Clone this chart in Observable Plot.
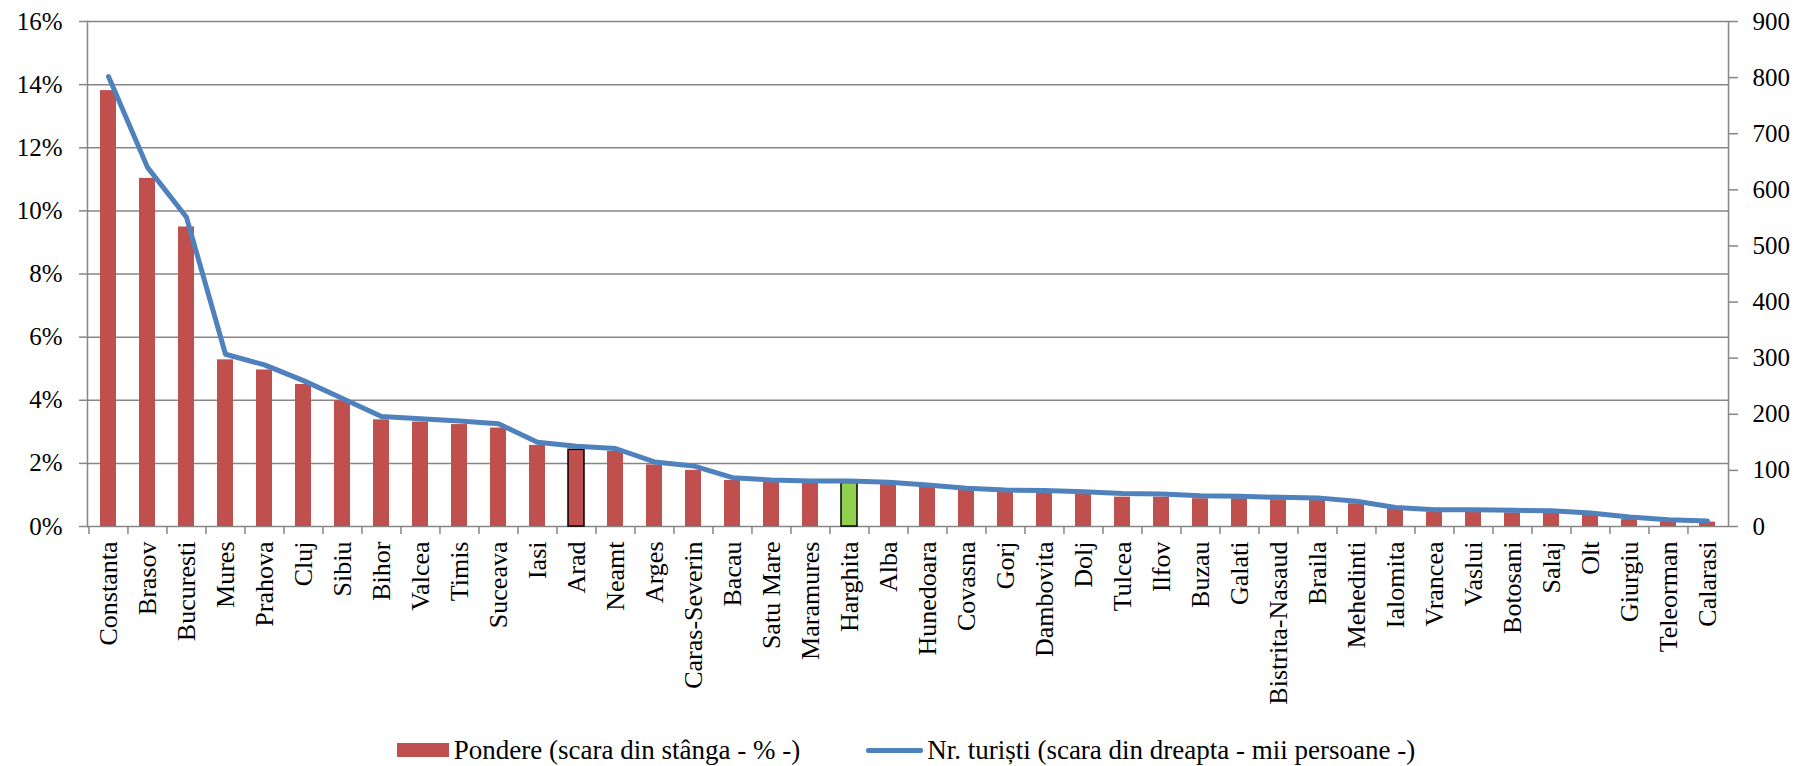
<!DOCTYPE html>
<html>
<head>
<meta charset="utf-8">
<script src="https://cdn.jsdelivr.net/npm/d3@7"></script>
<script src="https://cdn.jsdelivr.net/npm/@observablehq/plot@0.6"></script>
<style>
  html, body { margin: 0; padding: 0; background: white; font-family: "Liberation Serif", serif; }
  #legend { display: flex; justify-content: center; align-items: center; height: 36px;
    font-family: "Liberation Serif", serif; font-size: 27px; color: black; white-space: nowrap; }
  .sw-bar { display: inline-block; width: 52px; height: 14px; background: #C0504D; margin-right: 5px; }
  .sw-line { display: inline-block; width: 57px; height: 5px; background: #4F81BD; margin-left: 66px; margin-right: 4px; border-radius: 2px; }
</style>
</head>
<body>
<div id="chart"></div>
<div id="legend"><span class="sw-bar"></span><span>Pondere (scara din stânga - % -)</span><span class="sw-line"></span><span>Nr. turiști (scara din dreapta - mii persoane -)</span></div>
<script>
const counties = ["Constanta","Brasov","Bucuresti","Mures","Prahova","Cluj","Sibiu","Bihor","Valcea","Timis","Suceava","Iasi","Arad","Neamt","Arges","Caras-Severin","Bacau","Satu Mare","Maramures","Harghita","Alba","Hunedoara","Covasna","Gorj","Dambovita","Dolj","Tulcea","Ilfov","Buzau","Galati","Bistrita-Nasaud","Braila","Mehedinti","Ialomita","Vrancea","Vaslui","Botosani","Salaj","Olt","Giurgiu","Teleorman","Calarasi"];
const shares = [13.81, 11.03, 9.49, 5.28, 4.96, 4.50, 3.99, 3.38, 3.31, 3.23, 3.12, 2.57, 2.43, 2.38, 1.95, 1.78, 1.46, 1.41, 1.38, 1.38, 1.35, 1.25, 1.16, 1.09, 1.06, 1.02, 0.93, 0.93, 0.88, 0.88, 0.85, 0.83, 0.72, 0.56, 0.46, 0.46, 0.43, 0.43, 0.35, 0.22, 0.16, 0.14];
const tourists = [802, 640, 551, 307, 288, 260, 228, 196, 192, 188, 183, 150, 143, 139, 115, 108, 87, 83, 81, 81, 79, 74, 68, 65, 64, 62, 59, 58, 55, 54, 52, 51, 45, 34, 30, 30, 29, 28, 24, 17, 12, 10];
const leftTicks = [0, 2, 4, 6, 8, 10, 12, 14, 16];
const rightTicks = [0, 100, 200, 300, 400, 500, 600, 700, 800, 900];
const highlightOutline = ["Arad", "Harghita"];
const greenBar = "Harghita";

const leftMax = 16, rightMax = 900;
const toLeft = v => v * leftMax / rightMax;

const data = counties.map((c, i) => ({county: c, share: shares[i], tourists: tourists[i]}));

const width = 1812, height = 732;
const marginLeft = 87, marginRight = 84, marginTop = 21, marginBottom = 206;
const step = (width - marginLeft - marginRight) / counties.length;
const grey = "#868686";
const font = "'Liberation Serif', serif";

const chart = Plot.plot({
  width, height, marginLeft, marginRight, marginTop, marginBottom,
  style: {fontFamily: font, fontSize: "26px", color: "black", background: "white"},
  x: {domain: counties, paddingInner: 0.59, paddingOuter: 0.295, axis: null, label: null},
  y: {domain: [0, leftMax], axis: null, label: null},
  marks: [
    Plot.gridY(leftTicks, {stroke: grey, strokeOpacity: 1, strokeWidth: 1.5}),
    Plot.frame({anchor: "left", stroke: grey, strokeWidth: 1.5}),
    Plot.frame({anchor: "right", stroke: grey, strokeWidth: 1.5}),
    Plot.axisY(leftTicks, {anchor: "left", label: null, tickSize: 8, tickPadding: 17, tickFormat: d => d + "%",
      stroke: grey, strokeWidth: 1.5, fill: "black", fontSize: 25}),
    Plot.axisY(rightTicks.map(toLeft), {anchor: "right", label: null, tickSize: 9, tickPadding: 15,
      tickFormat: d => Math.round(d * rightMax / leftMax), stroke: grey, strokeWidth: 1.5, fill: "black", fontSize: 25}),
    Plot.axisX({anchor: "bottom", label: null, tickSize: 8, tickFormat: () => "", dx: -step / 2, stroke: grey, strokeWidth: 1.5}),
    Plot.axisX({anchor: "bottom", label: null, tickSize: 0, tickPadding: 15, tickRotate: -90, fill: "black", fontSize: 26}),
    Plot.barY(data, {x: "county", y: "share",
      fill: d => d.county === greenBar ? "#92D050" : "#C0504D",
      stroke: d => highlightOutline.includes(d.county) ? "black" : "none", strokeWidth: 1.5}),
    Plot.lineY(data, {x: "county", y: d => toLeft(d.tourists), stroke: "#4F81BD", strokeWidth: 5,
      strokeLinejoin: "round", strokeLinecap: "round"})
  ]
});
document.getElementById("chart").appendChild(chart);
</script>
</body>
</html>
